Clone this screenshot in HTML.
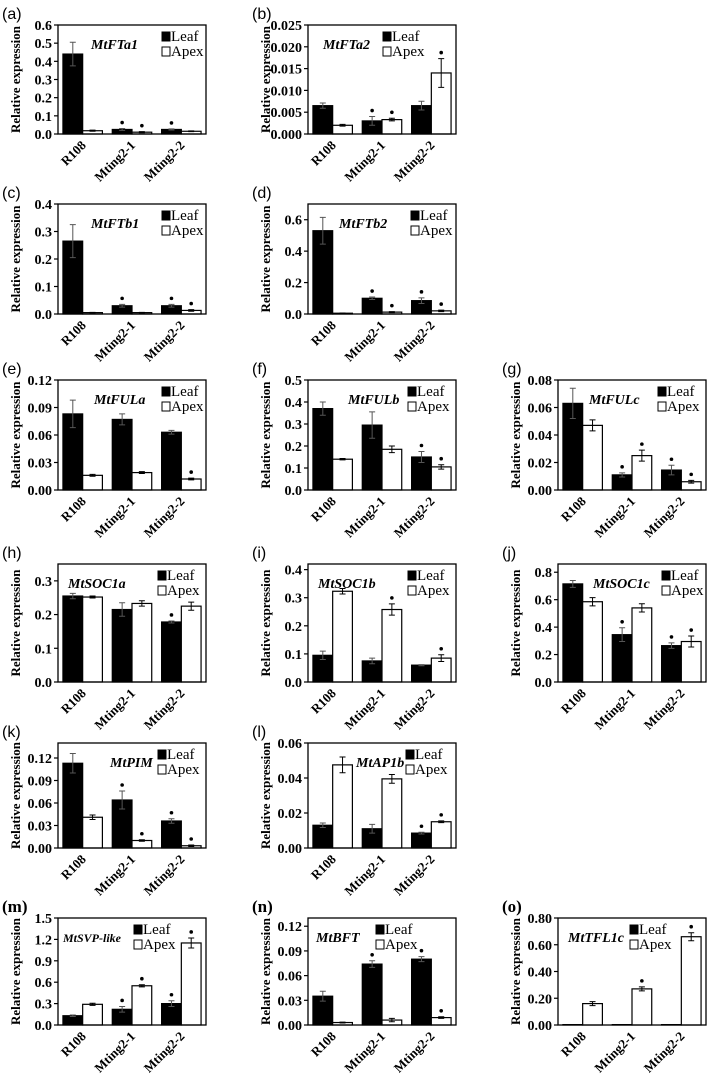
<!DOCTYPE html>
<html><head><meta charset="utf-8"><style>
body{margin:0;background:#fff;}
svg{display:block;font-family:"Liberation Serif",serif;}
</style></head><body>
<svg id="fig" width="709" height="1079" viewBox="0 0 709 1079" xmlns="http://www.w3.org/2000/svg"></svg>
<script>
const categories = ["R108","Mting2-1","Mting2-2"];
const seriesNames = ["Leaf","Apex"];
// values per panel
const leaf_a=[0.44,0.025,0.025], leafErr_a=[0.065,0.005,0.003], apex_a=[0.018,0.01,0.015], apexErr_a=[0.003,0.003,0.002], leafSig_a=[0,1,1], apexSig_a=[0,1,0];
const ticks_a=[0,0.1,0.2,0.3,0.4,0.5,0.6];
const leaf_b=[0.0065,0.003,0.0065], leafErr_b=[0.0006,0.001,0.001], apex_b=[0.002,0.0033,0.014], apexErr_b=[0.0002,0.0003,0.0033], leafSig_b=[0,1,0], apexSig_b=[0,1,1];
const ticks_b=[0,0.005,0.010,0.015,0.020,0.025];
const leaf_c=[0.265,0.03,0.03], leafErr_c=[0.06,0.005,0.005], apex_c=[0.005,0.005,0.013], apexErr_c=[0.001,0.001,0.003], leafSig_c=[0,1,1], apexSig_c=[0,0,1];
const ticks_c=[0,0.1,0.2,0.3,0.4];
const leaf_d=[0.53,0.1,0.085], leafErr_d=[0.085,0.008,0.018], apex_d=[0.005,0.012,0.02], apexErr_d=[0.001,0.003,0.005], leafSig_d=[0,1,1], apexSig_d=[0,1,1];
const ticks_d=[0,0.2,0.4,0.6];
const leaf_e=[0.083,0.077,0.063], leafErr_e=[0.015,0.006,0.002], apex_e=[0.016,0.019,0.012], apexErr_e=[0.001,0.001,0.001], leafSig_e=[0,0,0], apexSig_e=[0,0,1];
const ticks_e=[0,0.03,0.06,0.09,0.12];
const leaf_f=[0.37,0.295,0.15], leafErr_f=[0.03,0.06,0.025], apex_f=[0.14,0.185,0.105], apexErr_f=[0.003,0.015,0.01], leafSig_f=[0,0,1], apexSig_f=[0,0,1];
const ticks_f=[0,0.1,0.2,0.3,0.4,0.5];
const leaf_g=[0.063,0.011,0.0145], leafErr_g=[0.011,0.0015,0.0035], apex_g=[0.047,0.025,0.006], apexErr_g=[0.004,0.004,0.001], leafSig_g=[0,1,1], apexSig_g=[0,1,1];
const ticks_g=[0,0.02,0.04,0.06,0.08];
const leaf_h=[0.255,0.215,0.178], leafErr_h=[0.008,0.02,0.003], apex_h=[0.252,0.233,0.225], apexErr_h=[0.003,0.008,0.012], leafSig_h=[0,0,1], apexSig_h=[0,0,0];
const ticks_h=[0,0.1,0.2,0.3];
const leaf_i=[0.095,0.075,0.06], leafErr_i=[0.015,0.01,0.002], apex_i=[0.323,0.258,0.085], apexErr_i=[0.01,0.02,0.012], leafSig_i=[0,0,0], apexSig_i=[0,1,1];
const ticks_i=[0,0.1,0.2,0.3,0.4];
const leaf_j=[0.715,0.345,0.265], leafErr_j=[0.025,0.05,0.02], apex_j=[0.585,0.54,0.295], apexErr_j=[0.03,0.03,0.04], leafSig_j=[0,1,1], apexSig_j=[0,0,1];
const ticks_j=[0,0.2,0.4,0.6,0.8];
const leaf_k=[0.113,0.064,0.036], leafErr_k=[0.013,0.012,0.003], apex_k=[0.041,0.01,0.003], apexErr_k=[0.003,0.001,0.001], leafSig_k=[0,1,1], apexSig_k=[0,1,1];
const ticks_k=[0,0.03,0.06,0.09,0.12];
const leaf_l=[0.013,0.011,0.0085], leafErr_l=[0.0013,0.0025,0.0005], apex_l=[0.0475,0.0395,0.015], apexErr_l=[0.0045,0.0025,0.0005], leafSig_l=[0,0,1], apexSig_l=[0,0,1];
const ticks_l=[0,0.02,0.04,0.06];
const leaf_m=[0.13,0.22,0.3], leafErr_m=[0.01,0.04,0.04], apex_m=[0.29,0.55,1.15], apexErr_m=[0.015,0.015,0.07], leafSig_m=[0,1,1], apexSig_m=[0,1,1];
const ticks_m=[0,0.3,0.6,0.9,1.2,1.5];
const leaf_n=[0.035,0.074,0.08], leafErr_n=[0.006,0.004,0.003], apex_n=[0.003,0.006,0.009], apexErr_n=[0.0005,0.002,0.001], leafSig_n=[0,1,1], apexSig_n=[0,0,1];
const ticks_n=[0,0.03,0.06,0.09,0.12];
const leaf_o=[0.003,0.003,0.003], leafErr_o=[0,0,0], apex_o=[0.16,0.27,0.66], apexErr_o=[0.015,0.015,0.03], leafSig_o=[0,0,0], apexSig_o=[0,1,1];
const ticks_o=[0,0.2,0.4,0.6,0.8];

const svg=document.getElementById('fig');
const NS='http://www.w3.org/2000/svg';
function mk(tag,attrs,parent,text){const e=document.createElementNS(NS,tag);for(const k in attrs)e.setAttribute(k,attrs[k]);if(text!==undefined)e.textContent=text;(parent||svg).appendChild(e);return e;}

const panels=[
 {id:'a',gene:'MtFTa1',col:0,top:25,bot:134,ymax:0.6,dec:1,L:leaf_a,LE:leafErr_a,A:apex_a,AE:apexErr_a,LS:leafSig_a,AS:apexSig_a,T:ticks_a,gx:33,lx:104,lab:'(a)'},
 {id:'b',gene:'MtFTa2',col:1,top:25,bot:134,ymax:0.025,dec:3,L:leaf_b,LE:leafErr_b,A:apex_b,AE:apexErr_b,LS:leafSig_b,AS:apexSig_b,T:ticks_b,gx:15,lx:75,lab:'(b)'},
 {id:'c',gene:'MtFTb1',col:0,top:204,bot:314,ymax:0.4,dec:1,L:leaf_c,LE:leafErr_c,A:apex_c,AE:apexErr_c,LS:leafSig_c,AS:apexSig_c,T:ticks_c,gx:33,lx:104,lab:'(c)'},
 {id:'d',gene:'MtFTb2',col:1,top:204,bot:314,ymax:0.7,dec:1,L:leaf_d,LE:leafErr_d,A:apex_d,AE:apexErr_d,LS:leafSig_d,AS:apexSig_d,T:ticks_d,gx:31,lx:103,lab:'(d)'},
 {id:'e',gene:'MtFULa',col:0,top:380,bot:490,ymax:0.12,dec:2,L:leaf_e,LE:leafErr_e,A:apex_e,AE:apexErr_e,LS:leafSig_e,AS:apexSig_e,T:ticks_e,gx:36,lx:104,lab:'(e)'},
 {id:'f',gene:'MtFULb',col:1,top:380,bot:490,ymax:0.5,dec:1,L:leaf_f,LE:leafErr_f,A:apex_f,AE:apexErr_f,LS:leafSig_f,AS:apexSig_f,T:ticks_f,gx:40,lx:100,lab:'(f)'},
 {id:'g',gene:'MtFULc',col:2,top:380,bot:490,ymax:0.08,dec:2,L:leaf_g,LE:leafErr_g,A:apex_g,AE:apexErr_g,LS:leafSig_g,AS:apexSig_g,T:ticks_g,gx:31,lx:100,lab:'(g)'},
 {id:'h',gene:'MtSOC1a',col:0,top:564,bot:682,ymax:0.35,dec:1,L:leaf_h,LE:leafErr_h,A:apex_h,AE:apexErr_h,LS:leafSig_h,AS:apexSig_h,T:ticks_h,gx:10,lx:100,lab:'(h)'},
 {id:'i',gene:'MtSOC1b',col:1,top:564,bot:682,ymax:0.42,dec:1,L:leaf_i,LE:leafErr_i,A:apex_i,AE:apexErr_i,LS:leafSig_i,AS:apexSig_i,T:ticks_i,gx:10,lx:100,lab:'(i)'},
 {id:'j',gene:'MtSOC1c',col:2,top:564,bot:682,ymax:0.86,dec:1,L:leaf_j,LE:leafErr_j,A:apex_j,AE:apexErr_j,LS:leafSig_j,AS:apexSig_j,T:ticks_j,gx:35,lx:104,lab:'(j)'},
 {id:'k',gene:'MtPIM',col:0,top:743,bot:848,ymax:0.14,dec:2,L:leaf_k,LE:leafErr_k,A:apex_k,AE:apexErr_k,LS:leafSig_k,AS:apexSig_k,T:ticks_k,gx:52,lx:100,lab:'(k)'},
 {id:'l',gene:'MtAP1b',col:1,top:743,bot:848,ymax:0.06,dec:2,L:leaf_l,LE:leafErr_l,A:apex_l,AE:apexErr_l,LS:leafSig_l,AS:apexSig_l,T:ticks_l,gx:48,lx:98,lab:'(l)'},
 {id:'m',gene:'MtSVP-like',col:0,top:918,bot:1025,ymax:1.5,dec:1,L:leaf_m,LE:leafErr_m,A:apex_m,AE:apexErr_m,LS:leafSig_m,AS:apexSig_m,T:ticks_m,gx:5,lx:76,lab:'(m)',bold:true,gs:12},
 {id:'n',gene:'MtBFT',col:1,top:918,bot:1025,ymax:0.13,dec:2,L:leaf_n,LE:leafErr_n,A:apex_n,AE:apexErr_n,LS:leafSig_n,AS:apexSig_n,T:ticks_n,gx:8,lx:68,lab:'(n)',bold:true},
 {id:'o',gene:'MtTFL1c',col:2,top:918,bot:1025,ymax:0.8,dec:2,L:leaf_o,LE:leafErr_o,A:apex_o,AE:apexErr_o,LS:leafSig_o,AS:apexSig_o,T:ticks_o,gx:10,lx:72,lab:'(o)',bold:true}
];

panels.forEach(p=>{
  const left=58+p.col*250, W=148, right=left+W, top=p.top, bot=p.bot;
  const g=mk('g',{});
  
  
  const y=v=>bot-(v/p.ymax)*(bot-top);
  const gw=W/3, bw=gw*0.4, gap=gw*0.1;
  const lb=mk('text',{x:left-56,y:top-6,'font-family':p.bold?'"Liberation Serif",serif':'"Liberation Sans",sans-serif','font-size':p.bold?17:16,'font-weight':p.bold?'bold':'normal'},g,p.lab);
  
  
  const yt=mk('text',{x:0,y:0,'font-size':13,'font-weight':'bold','text-anchor':'middle',transform:`translate(${left-38},${(top+bot)/2}) rotate(-90)`},g,'Relative expression');
  
  
  p.T.forEach(t=>{
    const yy=y(t);
    mk('line',{x1:left-4,x2:left,y1:yy,y2:yy,stroke:'#000','stroke-width':1.2},g);
    const tl=mk('text',{x:left-6,y:yy+5,'font-size':14,'font-weight':'bold','text-anchor':'end'},g,t.toFixed(p.dec));
    
    
  });
  [[p.L,p.LE,p.LS,'#000'],[p.A,p.AE,p.AS,'#fff']].forEach((s,si)=>{
    s[0].forEach((v,i)=>{
      const x=left+i*gw+gap+si*bw;
      const r=mk('rect',{x:x,y:y(v),width:bw,height:bot-y(v),fill:s[3],stroke:'#000','stroke-width':1.2},g);
      
      
      const cx=x+bw/2, e=s[1][i];
      if(e>0){
        const e1=y(v+e), e2=y(Math.max(0,v-e));
        const eb=mk('path',{d:`M${cx},${e1}V${e2}M${cx-3},${e1}H${cx+3}M${cx-3},${e2}H${cx+3}`,stroke:si===0?'#555':'#000','stroke-width':1,fill:'none'},g);
        
        
      }
      if(s[2][i]){
        const st=mk('circle',{cx:cx,cy:y(v+e)-6,r:1.8,fill:'#000'},g);
        
        
      }
    });
  });
  const fr=mk('rect',{x:left,y:top,width:W,height:bot-top,fill:'none',stroke:'#000','stroke-width':1.3},g);
  
  
  const gn=mk('text',{x:left+p.gx,y:top+24,'font-size':p.gs||14,'font-weight':'bold','font-style':'italic'},g,p.gene);
  
  
  seriesNames.forEach((n,si)=>{
    const ly=top+16+si*15;
    const sq=mk('rect',{x:left+p.lx,y:ly-9,width:8,height:9,fill:si?'#fff':'#000',stroke:'#000','stroke-width':1},g);
    
    
    const lt=mk('text',{x:left+p.lx+9,y:ly,'font-size':15},g,n);
    
    
  });
  categories.forEach((c,i)=>{
    const cx=left+i*gw+gw/2+4;
    const xl=mk('text',{x:0,y:0,'font-size':13,'font-weight':'bold','text-anchor':'end',transform:`translate(${cx},${bot+12}) rotate(-45)`},g,c);
    
    
  });
});
</script>
</body></html>
